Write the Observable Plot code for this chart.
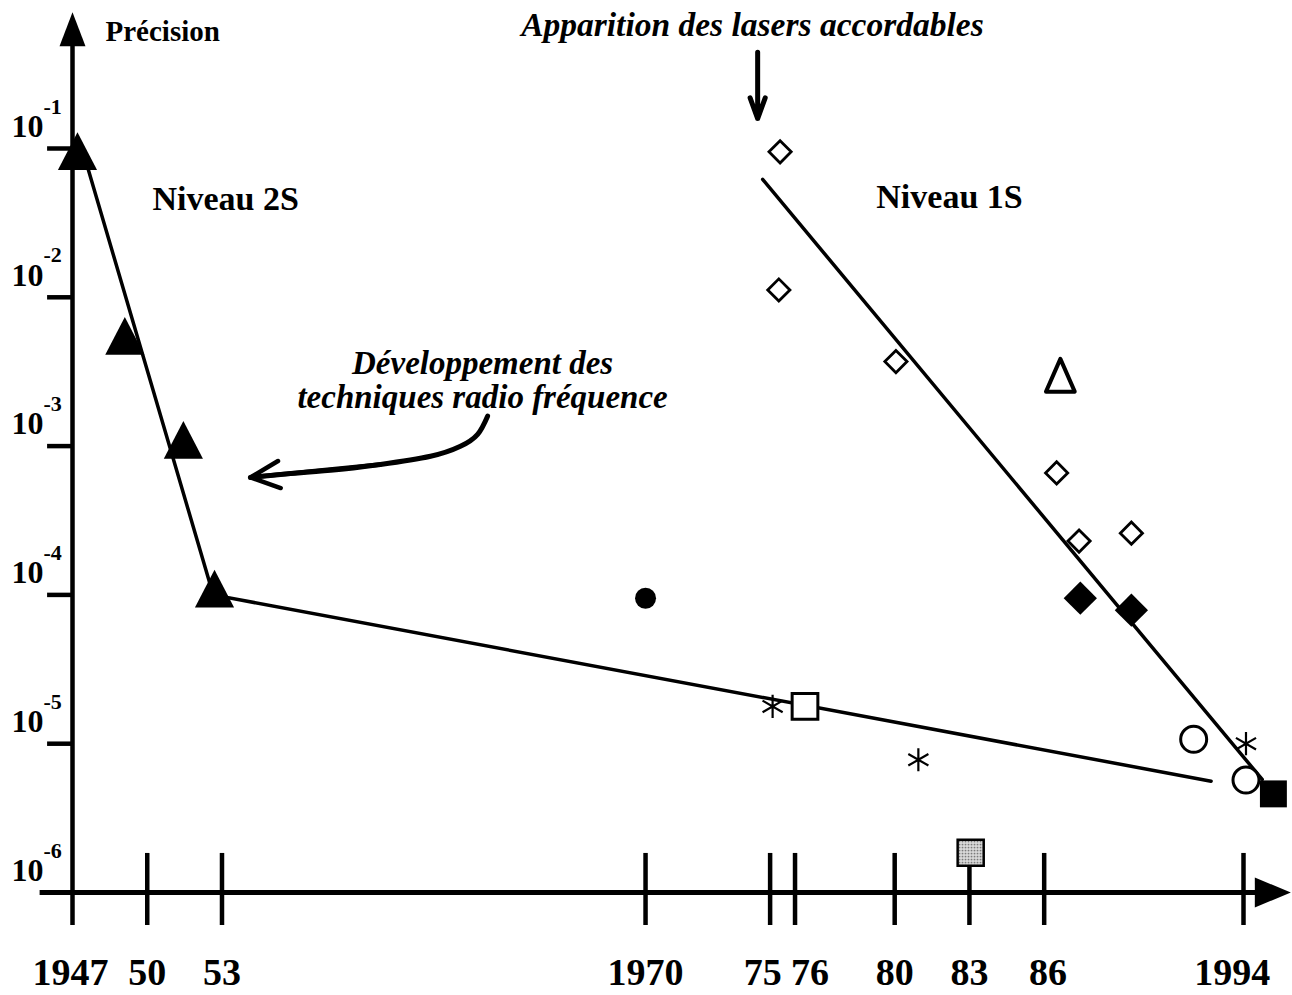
<!DOCTYPE html>
<html><head><meta charset="utf-8">
<script src="https://cdn.jsdelivr.net/npm/d3@7"></script>
<script src="https://cdn.jsdelivr.net/npm/@observablehq/plot@0.6"></script>
<style>body{margin:0;background:#fff;} svg{display:block}</style>
</head><body><div id="chart"></div>
<script>
// ---------- data ----------
const tickYears = [1947, 1950, 1953, 1970, 1975, 1976, 1980, 1983, 1986, 1994];
const tickLabels = ["1947", "50", "53", "1970", "75", "76", "80", "83", "86", "1994"];
const yTickValues = [1e-1, 1e-2, 1e-3, 1e-4, 1e-5];
const yLabelValues = [1e-1, 1e-2, 1e-3, 1e-4, 1e-5, 1e-6];
const yLabelExponents = ["-1", "-2", "-3", "-4", "-5", "-6"];

const level2SYears = [1947.2, 1949.1, 1951.45, 1952.7];
const level2SValues = [0.087, 5.0e-3, 1.0e-3, 1.0e-4];
const openDiamondYears = [1975.4, 1975.35, 1980.05, 1986.5, 1987.4, 1989.5];
const openDiamondValues = [0.095, 0.0112, 3.7e-3, 6.6e-4, 2.3e-4, 2.6e-4];
const filledDiamondYears = [1987.45, 1989.5];
const filledDiamondValues = [9.5e-5, 7.9e-5];
const openTriangleYears = [1986.65];
const openTriangleValues = [2.75e-3];
const filledCircleYears = [1970];
const filledCircleValues = [9.5e-5];
const asteriskYears = [1975.1, 1980.95, 1994.1];
const asteriskValues = [1.78e-5, 7.8e-6, 1.0e-5];
const openSquareYears = [1976.4];
const openSquareValues = [1.78e-5];
const openCircleYears = [1992.0, 1994.1];
const openCircleValues = [1.07e-5, 5.7e-6];
const filledSquareYears = [1995.2];
const filledSquareValues = [4.6e-6];
const grayStemYears = [1983.05];
const grayStemValues = [1.85e-6];

const trend2SYears = [1947.4, 1952.65, 1992.7];
const trend2SValues = [0.098, 1.0e-4, 5.6e-6];
const trend1SYears = [1974.7, 1994.75];
const trend1SValues = [0.062, 5.75e-6];

// annotation geometry (data units)
const rfArrowYears = [1963.66, 1963.26, 1962.57, 1961.37, 1959.36, 1957.36, 1955.35, 1954.14];
const rfArrowValues = [1.59e-3, 1.20e-3, 9.97e-4, 8.54e-4, 7.53e-4, 6.87e-4, 6.45e-4, 6.16e-4];

// ---------- helpers ----------
const pts = (xs, ys) => xs.map((x, i) => ({x, y: ys[i]}));
const triSym = (hw, h) => ({
  draw(ctx, size) {
    const s = Math.sqrt(size / Math.PI);
    const w = hw * s, H = h * s;
    ctx.moveTo(0, -2 * H / 3); ctx.lineTo(w, H / 3); ctx.lineTo(-w, H / 3); ctx.closePath();
  }
});
const arrowUp = {draw(ctx) { ctx.moveTo(0, 0); ctx.lineTo(13, 34); ctx.lineTo(-13, 34); ctx.closePath(); }};
const arrowRight = {draw(ctx) { ctx.moveTo(0, 0); ctx.lineTo(-36, -15); ctx.lineTo(-36, 15); ctx.closePath(); }};

const axisMinX = 1945.7, axisMaxX = 1995.9, axisTopY = 0.825;
const tickTop = 1.83e-6, tickBottom = 6.0e-7, yearLabelY = 2.9e-7;
const labelNudge = {1947: -0.08, 1975: -0.3, 1976: 0.6, 1986: 0.15, 1994: -0.45};
const ticks = tickYears.map((year, i) => ({year, label: tickLabels[i]}));
const yLabels = yLabelValues.map((v, i) => ({v, e: yLabelExponents[i]}));

const font = "'Liberation Serif', 'Times New Roman', serif";
const bold = {fontFamily: font, fontWeight: "bold", fill: "black"};

const svg = Plot.plot({
  width: 1292, height: 995,
  margin: 0,
  x: {domain: [1947, 1994], range: [72, 1243], axis: null},
  y: {type: "log", domain: [1e-6, 1e-1], range: [892, 148], axis: null},
  style: {fontFamily: font, background: "white", overflow: "visible"},
  marks: [
    // y axis
    Plot.ruleY(yTickValues, {x1: 1946, x2: 1947, strokeWidth: 4.5, stroke: "black"}),
    Plot.ruleX([1947], {y1: 1e-6, y2: 0.5, strokeWidth: 4.5, stroke: "black"}),
    Plot.dot([{x: 1947, y: axisTopY}], {x: "x", y: "y", symbol: arrowUp, r: 10, fill: "black", stroke: "none"}),
    // x axis
    Plot.ruleY([1e-6], {x1: axisMinX, x2: 1995.2, strokeWidth: 5, stroke: "black"}),
    Plot.dot([{x: axisMaxX, y: 1e-6}], {x: "x", y: "y", symbol: arrowRight, r: 10, fill: "black", stroke: "none"}),
    Plot.ruleX(ticks, {x: "year", y1: tickBottom, y2: d => d.year === 1947 ? 1e-6 : tickTop, strokeWidth: 4.5, stroke: "black"}),
    Plot.text(ticks, {x: d => d.year + (labelNudge[d.year] ?? 0), y: () => yearLabelY, text: "label", fontSize: 38, ...bold}),
    // y labels
    Plot.text(yLabels, {x: () => 1947, y: "v", text: () => "10", dx: -29, dy: -22, textAnchor: "end", fontSize: 32, ...bold}),
    Plot.text(yLabels, {x: () => 1947, y: "v", text: "e", dx: -29, dy: -42, textAnchor: "start", fontSize: 22, ...bold}),
    Plot.text([{x: 1947, y: 0.614}], {x: "x", y: "y", text: () => "Précision", dx: 33, textAnchor: "start", fontSize: 29, ...bold}),
    // trend lines
    Plot.line(pts(trend2SYears, trend2SValues), {x: "x", y: "y", stroke: "black", strokeWidth: 3.5}),
    Plot.line(pts(trend1SYears, trend1SValues), {x: "x", y: "y", stroke: "black", strokeWidth: 3.5}),
    // gray stem marker
    Plot.dot(pts(grayStemYears, grayStemValues), {x: "x", y: "y", symbol: "square", r: 14.7, fill: "url(#stipple)", stroke: "black", strokeWidth: 2.5}),
    // points
    Plot.dot(pts(level2SYears, level2SValues), {x: "x", y: "y", symbol: triSym(1.35, 2.6), r: 14.5, fill: "black", stroke: "none"}),
    Plot.dot(pts(openTriangleYears, openTriangleValues), {x: "x", y: "y", symbol: triSym(1.25, 2.85), r: 11.5, fill: "white", stroke: "black", strokeWidth: 4, strokeLinejoin: "round"}),
    Plot.dot(pts(openDiamondYears, openDiamondValues), {x: "x", y: "y", symbol: "diamond2", r: 10, fill: "white", stroke: "black", strokeWidth: 2.8}),
    Plot.dot(pts(filledDiamondYears, filledDiamondValues), {x: "x", y: "y", symbol: "diamond2", r: 15, fill: "black", stroke: "none"}),
    Plot.dot(pts(filledCircleYears, filledCircleValues), {x: "x", y: "y", symbol: "circle", r: 10.5, fill: "black", stroke: "none"}),
    Plot.dot(pts(openSquareYears, openSquareValues), {x: "x", y: "y", symbol: "square", r: 14.5, fill: "white", stroke: "black", strokeWidth: 3}),
    Plot.dot(pts(openCircleYears, openCircleValues), {x: "x", y: "y", symbol: "circle", r: 13, fill: "white", stroke: "black", strokeWidth: 3}),
    Plot.dot(pts(asteriskYears, asteriskValues), {x: "x", y: "y", symbol: "asterisk", r: 11, stroke: "black", strokeWidth: 2.2}),
    Plot.dot(pts(filledSquareYears, filledSquareValues), {x: "x", y: "y", symbol: "square", r: 15.2, fill: "black", stroke: "none"}),
    // annotations
    Plot.text([{x: 1953.15, y: 0.046}], {x: "x", y: "y", text: () => "Niveau 2S", fontSize: 34, ...bold}),
    Plot.text([{x: 1982.2, y: 0.047}], {x: "x", y: "y", text: () => "Niveau 1S", fontSize: 34, ...bold}),
    Plot.text([{x: 1974.29, y: 0.675}], {x: "x", y: "y", text: () => "Apparition des lasers accordables", fontSize: 33.5, fontStyle: "italic", ...bold}),
    Plot.arrow([{x: 1974.5, y1: 0.443, y2: 0.159}], {x: "x", y1: "y1", y2: "y2", stroke: "black", strokeWidth: 5, headAngle: 40, headLength: 11}),
    Plot.text([{x: 1963.46, y: 2.77e-3}], {x: "x", y: "y", text: () => "Développement des\ntechniques radio fréquence", fontSize: 33, lineHeight: 1.03, fontStyle: "italic", ...bold}),
    Plot.line(pts(rfArrowYears, rfArrowValues), {x: "x", y: "y", curve: "natural", stroke: "black", strokeWidth: 5, strokeLinecap: "round"}),
    Plot.arrow([{x1: rfArrowYears[4], y1: rfArrowValues[4], x2: rfArrowYears[7], y2: rfArrowValues[7]}], {x1: "x1", y1: "y1", x2: "x2", y2: "y2", stroke: "black", strokeWidth: 4.5, headAngle: 50, headLength: 10.7})
  ]
});

const defs = d3.select(svg).insert("defs", ":first-child");
const pat = defs.append("pattern").attr("id", "stipple").attr("width", 3).attr("height", 3).attr("patternUnits", "userSpaceOnUse");
pat.append("rect").attr("width", 3).attr("height", 3).attr("fill", "#e4e4e4");
pat.append("rect").attr("width", 1.5).attr("height", 1.5).attr("fill", "#555");

document.getElementById("chart").appendChild(svg);
</script>
</body></html>
